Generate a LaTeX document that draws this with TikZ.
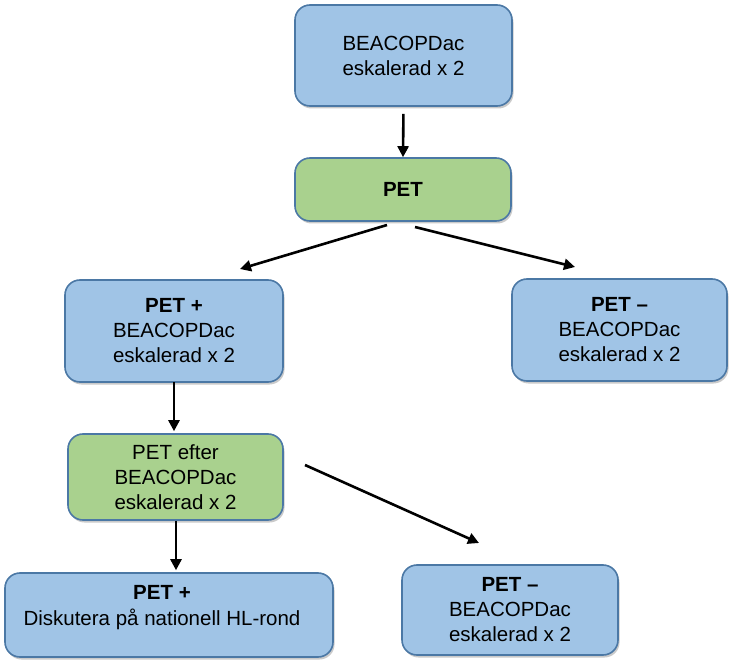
\documentclass[tikz,border=0pt]{standalone}
\usepackage{fontspec}
\setmainfont{Liberation Sans}
\usetikzlibrary{shadows,arrows.meta}
\definecolor{boxblue}{RGB}{160,196,230}
\definecolor{boxgreen}{RGB}{169,209,142}
\definecolor{boxline}{RGB}{75,120,165}
\tikzset{
  x=1pt, y=-1pt,
  base/.style={draw=boxline, line width=1.6pt, rounded corners=15pt, align=center,
    font=\fontsize{20.5}{25}\selectfont, inner sep=0pt,
    drop shadow={shadow xshift=1.5pt, shadow yshift=-2.5pt, opacity=0.35, fill=black!60}},
  bluebox/.style={base, fill=boxblue},
  greenbox/.style={base, fill=boxgreen},
  arr/.style={line width=2.6pt, -{Triangle[length=11pt,width=11pt]}},
  txt/.style={align=center, font=\fontsize{20.5}{26}\selectfont, inner sep=0pt}
}
\begin{document}
\begin{tikzpicture}
\useasboundingbox (0,0) rectangle (742,671);

\node[bluebox, minimum width=217pt, minimum height=101pt] (top) at (403.5,55.5)
  {BEACOPDac\\eskalerad x 2};
\node[greenbox, minimum width=216pt, minimum height=63pt] (pet) at (403,189.5)
  {\textbf{PET}};
\node[bluebox, minimum width=218pt, minimum height=102pt] (pos) at (174,331)
  {\textbf{PET +}\\BEACOPDac\\eskalerad x 2};
\node[bluebox, minimum width=215pt, minimum height=102pt] (neg) at (619.5,330)
  {\textbf{PET –}\\BEACOPDac\\eskalerad x 2};
\node[greenbox, minimum width=215pt, minimum height=86pt] (efter) at (175.5,477)
  {PET efter\\BEACOPDac\\eskalerad x 2};
\node[bluebox, minimum width=328pt, minimum height=84pt] (pos2) at (169,615) {};
\node[txt] (pos2txt) at (162,608) {\textbf{PET +}\\Diskutera på nationell HL-rond};
\node[bluebox, minimum width=216pt, minimum height=90pt] (neg2) at (510,610)
  {\textbf{PET –}\\BEACOPDac\\eskalerad x 2};

\coordinate (a1) at (387,225);
\coordinate (a2) at (240,269);
\coordinate (b1) at (415,227);
\coordinate (b2) at (575,267);
\coordinate (c1) at (305,465);
\coordinate (c2) at (479,543);

\draw[arr, shorten <=7pt] (top.south) -- (pet.north);
\draw[arr] (a1) -- (a2);
\draw[arr] (b1) -- (b2);
\draw[arr, shorten >=2pt] (174,382) -- (efter.north -| 174,0);
\draw[arr, shorten >=2pt] (efter.south -| 176,0) -- (pos2.north -| 176,0);
\draw[arr] (c1) -- (c2);
\end{tikzpicture}
\end{document}
